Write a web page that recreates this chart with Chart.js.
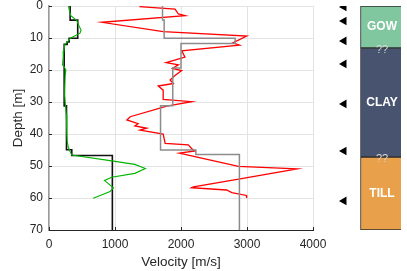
<!DOCTYPE html>
<html>
<head>
<meta charset="utf-8">
<script src="https://cdn.jsdelivr.net/npm/chart.js@4.4.1/dist/chart.umd.min.js"></script>
<style>
  html, body { margin: 0; padding: 0; background: #fff; }
  #wrap { position: relative; width: 407px; height: 271px; }
  #main { position: absolute; left: 0; top: 0; }
  #column { position: absolute; left: 320px; top: 0; }
</style>
</head>
<body>
<div id="wrap">
  <canvas id="main" width="407" height="271"></canvas>
  <canvas id="column" width="87" height="271"></canvas>
</div>
<script>
// velocity profiles, depth in m, velocity in m/s
var blackDepth = [0, 4.4, 4.4, 10.1, 10.1, 11.2, 11.2, 12, 12, 31.2, 31.2, 44.9, 44.9, 46.7, 46.7, 70];
var blackVel   = [320, 320, 435, 435, 305, 305, 275, 275, 230, 230, 265, 265, 345, 345, 960, 960];

var greenDepth = [0, 1.5, 3, 4.5, 6, 7.5, 8.5, 10, 11, 12, 14, 16, 18.4, 19, 20, 22, 25, 28, 31, 34, 37, 40, 42, 44, 45.5, 46.6, 48.4, 49.5, 50.8, 52.3, 53.5, 54.5, 56.8, 58, 60.1];
var greenVel   = [295, 310, 330, 420, 450, 485, 470, 330, 290, 240, 225, 215, 205, 230, 255, 245, 240, 238, 250, 262, 270, 270, 275, 290, 320, 345, 950, 1300, 1460, 1300, 950, 840, 975, 925, 670];

var grayDepth = [0, 4.4, 4.4, 10.1, 10.1, 11.7, 11.7, 19.4, 19.4, 31.2, 31.2, 45, 45, 46.4, 46.4, 70];
var grayVel   = [1720, 1720, 1745, 1745, 2820, 2820, 2000, 2000, 1875, 1875, 1690, 1690, 2225, 2225, 2885, 2885];

var redDepth = [0.2, 1.0, 2.5, 3.0, 5.1, 8.0, 9.4, 11.5, 12.2, 14.0, 16.0, 17.7, 18.4, 19.5, 20.2, 21.9, 23.1, 24.2, 25.0, 26.3, 29.2, 29.9, 31.3, 34.6, 35.6, 36.8, 37.5, 38.2, 38.8, 40.0, 42.9, 43.4, 44.5, 45.3, 46.0, 50.1, 50.9, 54.0, 56.5, 56.8, 57.5, 58.3, 59.2, 60.0];
var redVel   = [1370, 1910, 1960, 2060, 800, 1730, 2995, 2785, 2885, 2010, 2060, 1775, 1960, 1870, 2010, 1900, 1835, 1885, 1655, 1730, 1730, 2160, 1785, 1230, 1180, 1350, 1300, 1480, 1380, 1730, 1760, 2110, 2160, 2210, 1975, 2870, 3760, 2895, 2190, 2160, 2690, 2770, 2990, 2995];

// geological column
var unitNames  = ['GOW', 'CLAY', 'TILL'];
var unitTop    = [0, 13.1, 47.2];
var unitBottom = [13.1, 47.2, 70];
var unitColors = ['#80c7a0', '#48536f', '#e9a04a'];
var markerDepths = [0.3, 4.7, 10.9, 18.1, 30.6, 45.3, 60.9];

var velTicks = [0, 1000, 2000, 3000, 4000];
var depthTicks = [0, 10, 20, 30, 40, 50, 60, 70];

var FONT = "'Liberation Sans', Arial, sans-serif";
var TXT = '#262626';

function pts(vel, depth) {
  var out = [];
  for (var i = 0; i < vel.length; i++) out.push({x: vel[i], y: depth[i]});
  return out;
}

// MATLAB style inward tick marks
var innerTicks = {
  id: 'innerTicks',
  afterDraw: function(chart) {
    var ctx = chart.ctx, xs = chart.scales.x, ys = chart.scales.y;
    var a = chart.chartArea;
    ctx.save();
    ctx.strokeStyle = TXT;
    ctx.lineWidth = 1;
    ctx.beginPath();
    velTicks.forEach(function(v) {
      var px = Math.round(xs.getPixelForValue(v)) + 0.5;
      ctx.moveTo(px, a.bottom);
      ctx.lineTo(px, a.bottom - 3);
    });
    depthTicks.forEach(function(d) {
      var py = Math.round(ys.getPixelForValue(d)) + 0.5;
      ctx.moveTo(a.left, py);
      ctx.lineTo(a.left + 3, py);
    });
    ctx.stroke();
    ctx.restore();
  }
};

new Chart(document.getElementById('main'), {
  type: 'scatter',
  data: {
    datasets: [
      {data: pts(grayVel, grayDepth), borderColor: '#8c8c8c', borderWidth: 1.5},
      {data: pts(redVel, redDepth), borderColor: '#ff0000', borderWidth: 1.3},
      {data: pts(greenVel, greenDepth), borderColor: '#00b400', borderWidth: 1.1},
      {data: pts(blackVel, blackDepth), borderColor: '#111111', borderWidth: 1.6}
    ].map(function(ds) {
      ds.showLine = true;
      ds.pointRadius = 0;
      ds.fill = false;
      ds.tension = 0;
      return ds;
    })
  },
  options: {
    responsive: false,
    animation: false,
    devicePixelRatio: 1,
    layout: {padding: {left: 0, top: 6, right: 94, bottom: 0}},
    plugins: {legend: {display: false}, tooltip: {enabled: false}},
    scales: {
      x: {
        type: 'linear', min: 0, max: 4000,
        afterBuildTicks: function(s) { s.ticks = velTicks.map(function(v) { return {value: v}; }); },
        ticks: {color: TXT, padding: 7, font: {family: FONT, size: 12}, maxRotation: 0,
                callback: function(v) { return String(v); }},
        grid: {color: '#e3e3e3', drawTicks: false},
        border: {color: '#262626', width: 1},
        title: {display: true, text: 'Velocity [m/s]', color: TXT, font: {family: FONT, size: 13.5}, padding: {top: 0, bottom: 1}},
        afterFit: function(s) { s.height = 41; }
      },
      y: {
        type: 'linear', min: 0, max: 70, reverse: true,
        afterBuildTicks: function(s) { s.ticks = depthTicks.map(function(v) { return {value: v}; }); },
        ticks: {color: TXT, padding: 6, font: {family: FONT, size: 12, lineHeight: 1},
                callback: function(v) { return String(v); }},
        grid: {color: '#e3e3e3', drawTicks: false},
        border: {color: '#9a9a9a', width: 1.5},
        title: {display: true, text: 'Depth [m]', color: TXT, font: {family: FONT, size: 13.5}, padding: {top: 10, bottom: 0}},
        afterFit: function(s) { s.width = 49; s.paddingTop = 0; s.paddingBottom = 0; }
      }
    }
  },
  plugins: [innerTicks]
});

// unit labels inside the column
var unitLabels = {
  id: 'unitLabels',
  afterDatasetsDraw: function(chart) {
    var ctx = chart.ctx, xs = chart.scales.x, ys = chart.scales.y;
    var cx = xs.getPixelForValue(1);
    ctx.save();
    ctx.textAlign = 'center';
    ctx.textBaseline = 'middle';
    ctx.fillStyle = '#ffffff';
    ctx.font = 'bold 12px ' + FONT;
    for (var i = 0; i < unitNames.length; i++) {
      ctx.fillText(unitNames[i], cx, ys.getPixelForValue((unitTop[i] + unitBottom[i]) / 2));
    }
    ctx.fillStyle = '#d8d8d8';
    ctx.font = '11px ' + FONT;
    for (var j = 1; j < unitTop.length; j++) {
      ctx.fillText('??', cx, ys.getPixelForValue(unitTop[j]) + 2);
    }
    ctx.restore();
  }
};

var colDatasets = unitNames.map(function(name, i) {
  return {
    type: 'bar',
    label: name,
    data: [null, [unitTop[i], unitBottom[i]]],
    backgroundColor: unitColors[i],
    borderColor: '#2e2e2e',
    borderWidth: 1,
    borderSkipped: false,
    barThickness: 43,
    grouped: false
  };
});
colDatasets.push({
  type: 'line',
  data: markerDepths.map(function(d) { return {x: 'mark', y: d}; }),
  showLine: false,
  pointStyle: 'triangle',
  rotation: -90,
  pointRadius: 5,
  backgroundColor: '#000',
  borderColor: '#000',
  borderWidth: 0
});

new Chart(document.getElementById('column'), {
  type: 'bar',
  data: {labels: ['mark', 'column'], datasets: colDatasets},
  options: {
    responsive: false,
    animation: false,
    devicePixelRatio: 1,
    layout: {padding: {left: 0, right: 6, top: 6, bottom: 41}},
    plugins: {legend: {display: false}, tooltip: {enabled: false}},
    scales: {
      x: {display: false, offset: true},
      y: {display: false, min: 0, max: 70, reverse: true}
    }
  },
  plugins: [unitLabels]
});
</script>
</body>
</html>
